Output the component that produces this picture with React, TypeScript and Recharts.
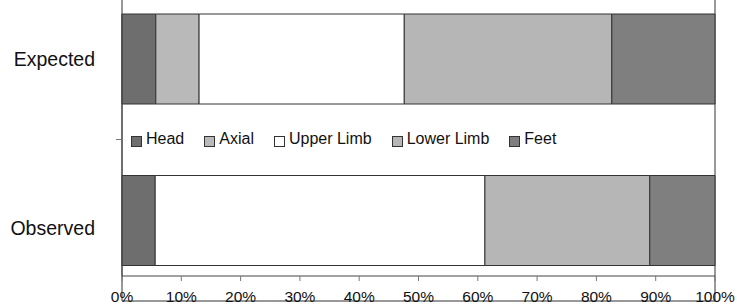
import React from "react";
import {
  BarChart,
  Bar,
  XAxis,
  YAxis,
  ReferenceArea,
} from "recharts";

const categories = ["Expected", "Observed"];
const head = [5.7, 5.6];
const axial = [7.3, 0];
const upperLimb = [34.6, 55.6];
const lowerLimb = [35.0, 27.8];
const feet = [17.4, 11.0];
const xTicks = [0, 10, 20, 30, 40, 50, 60, 70, 80, 90, 100];

const series = [
  { key: "head", name: "Head", fill: "#6e6e6e" },
  { key: "axial", name: "Axial", fill: "#b9b9b9" },
  { key: "upper", name: "Upper Limb", fill: "#ffffff" },
  { key: "lower", name: "Lower Limb", fill: "#b6b6b6" },
  { key: "feet", name: "Feet", fill: "#7f7f7f" },
];

const data = categories.map((c, i) => ({
  category: c,
  head: head[i],
  axial: axial[i],
  upper: upperLimb[i],
  lower: lowerLimb[i],
  feet: feet[i],
}));

const FONT = "Arial, 'Liberation Sans', sans-serif";

function CategoryTick(props: any) {
  const { y, payload, index } = props;
  const half = payload.offset || 0;
  return (
    <g>
      <text
        x={95}
        y={y + (index === 1 ? 8 : 0)}
        textAnchor="end"
        dominantBaseline="central"
        fontSize={19.5}
        fontFamily={FONT}
        fill="#111"
      >
        {payload.value}
      </text>
      {/* Excel-style tick between the two categories */}
      {index === 1 && (
        <line x1={116} x2={122} y1={y - half} y2={y - half} stroke="#777" strokeWidth={1} />
      )}
    </g>
  );
}

function PercentTick(props: any) {
  const { x, payload } = props;
  return (
    <text
      x={x}
      y={302}
      textAnchor="middle"
      fontSize={15.5}
      fontFamily={FONT}
      fill="#111"
    >
      {`${payload.value}%`}
    </text>
  );
}

function LegendBox() {
  return (
    <div
      style={{
        position: "absolute",
        left: 131,
        top: 129,
        display: "flex",
        alignItems: "center",
        fontFamily: FONT,
        fontSize: 16,
        lineHeight: "20px",
        color: "#111",
        whiteSpace: "nowrap",
      }}
    >
      {series.map((s) => (
        <div
          key={s.key}
          style={{ display: "flex", alignItems: "center", marginRight: 20 }}
        >
          <span
            style={{
              display: "inline-block",
              width: 9,
              height: 9,
              background: s.fill,
              border: "1px solid #333",
              marginRight: 4,
              marginTop: 4,
            }}
          />
          {s.name}
        </div>
      ))}
    </div>
  );
}

export default function App() {
  return (
    <div style={{ position: "absolute", left: 0, top: 0, width: 737, height: 306, background: "#fff" }}>
      <BarChart
        width={737}
        height={306}
        data={data}
        layout="vertical"
        margin={{ top: 14, right: 22, left: 0, bottom: 0 }}
        barSize={90}
      >
        <XAxis
          type="number"
          domain={[0, 100]}
          ticks={xTicks}
          axisLine={{ stroke: "#444" }}
          tickLine={{ stroke: "#777" }}
          tickSize={5}
          height={30}
          interval={0}
          tick={<PercentTick />}
        />
        <YAxis
          type="category"
          dataKey="category"
          width={122}
          axisLine={{ stroke: "#444" }}
          tickLine={false}
          padding={{ top: -36, bottom: -25 }}
          tick={<CategoryTick />}
        />
        <ReferenceArea x1={0} x2={100} fill="none" stroke="#333" strokeWidth={1} ifOverflow="visible" />
        {series.map((s) => (
          <Bar
            key={s.key}
            dataKey={s.key}
            name={s.name}
            stackId="a"
            fill={s.fill}
            stroke="#333"
            strokeWidth={1}
            isAnimationActive={false}
          />
        ))}
      </BarChart>
      <LegendBox />
    </div>
  );
}
